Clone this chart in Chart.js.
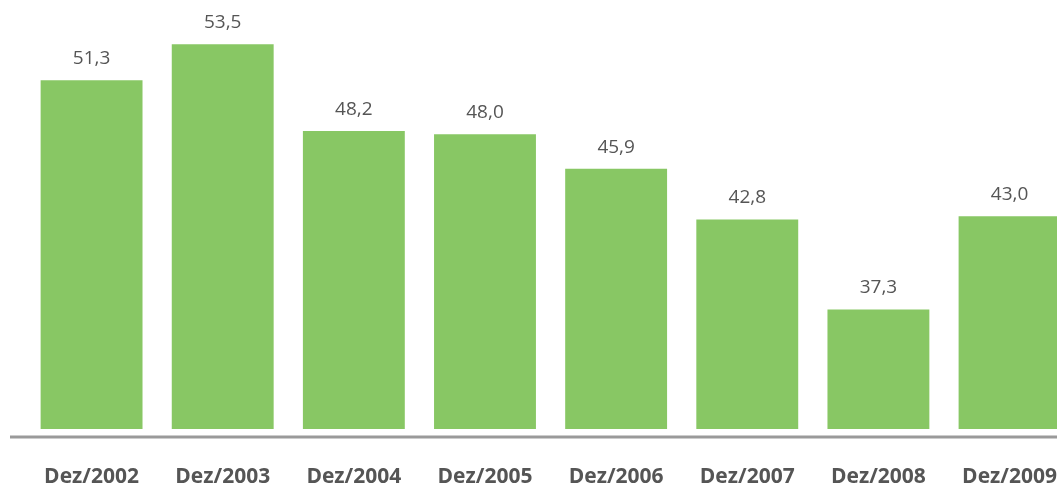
<!DOCTYPE html>
<html>
<head>
<meta charset="utf-8">
<script src="https://cdn.jsdelivr.net/npm/chart.js@4"></script>
<style>
  html, body { margin: 0; padding: 0; background: #fff; overflow: hidden; }
  #wrap { width: 1057px; height: 483px; overflow: hidden; }
  #c { display: block; }
</style>
</head>
<body>
<div id="wrap"><canvas id="c" width="1095" height="524"></canvas></div>
<script>
// values
const categories = ["Dez/2002", "Dez/2003", "Dez/2004", "Dez/2005", "Dez/2006", "Dez/2007", "Dez/2008", "Dez/2009"];
const values = [51.3, 53.5, 48.2, 48.0, 45.9, 42.8, 37.3, 43.0];

const green = "#88c764";
const textGray = "#555555";

// numbers over the bars, with comma decimals
const valueLabels = {
  id: "valueLabels",
  afterDatasetsDraw(chart) {
    const ctx = chart.ctx;
    const meta = chart.getDatasetMeta(0);
    ctx.save();
    ctx.font = "19px 'Open Sans'";
    ctx.fillStyle = textGray;
    ctx.textAlign = "center";
    ctx.textBaseline = "bottom";
    meta.data.forEach((bar, i) => {
      const txt = values[i].toFixed(1).replace(".", ",");
      ctx.fillText(txt, bar.x, bar.y - 12);
    });
    ctx.restore();
  }
};

// grey base line running under the bars
const baseLine = {
  id: "baseLine",
  afterDraw(chart) {
    const ctx = chart.ctx;
    const y = chart.chartArea.bottom + 8;
    ctx.save();
    ctx.strokeStyle = "#9a9a9a";
    ctx.lineWidth = 3;
    ctx.beginPath();
    ctx.moveTo(10, y);
    ctx.lineTo(chart.width, y);
    ctx.stroke();
    ctx.restore();
  }
};

new Chart(document.getElementById("c"), {
  type: "bar",
  data: {
    labels: categories,
    datasets: [{
      data: values,
      backgroundColor: green,
      borderWidth: 0,
      barPercentage: 0.777,
      categoryPercentage: 1
    }]
  },
  options: {
    responsive: false,
    animation: false,
    layout: { padding: { left: 26, right: 0, top: 0, bottom: 0 } },
    plugins: {
      legend: { display: false },
      tooltip: { enabled: false }
    },
    scales: {
      x: {
        grid: { display: false, drawTicks: false },
        border: { display: false },
        ticks: {
          color: textGray,
          padding: 38,
          font: { family: "'Open Sans'", size: 21, weight: "bold", lineHeight: 0.9 },
          maxRotation: 0,
          autoSkip: false
        }
      },
      y: {
        display: false,
        min: 30,
        max: 56.2
      }
    }
  },
  plugins: [valueLabels, baseLine]
});
</script>
</body>
</html>
